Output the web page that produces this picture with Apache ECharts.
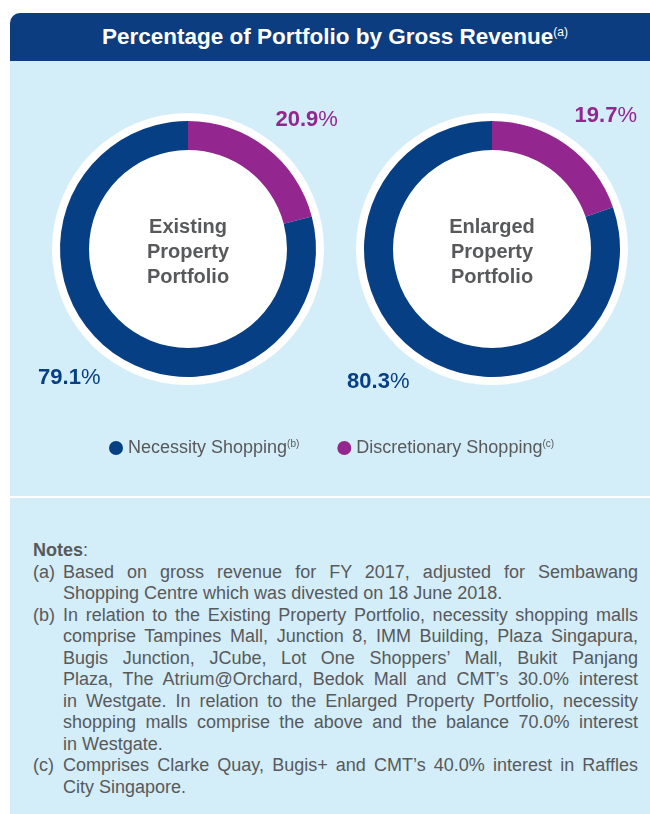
<!DOCTYPE html>
<html>
<head>
<meta charset="utf-8">
<script src="https://cdn.jsdelivr.net/npm/echarts@6/dist/echarts.min.js"></script>
<style>
	html, body {
		margin: 0;
		padding: 0;
		width: 650px;
		height: 814px;
		background: #fff;
		overflow: hidden;
		font-family: 'Liberation Sans', Arial, sans-serif;
	}
	/* 外层面板 */
	.panel {
		position: absolute;
		left: 10px;
		top: 13px;
		width: 640px;
		height: 801px;
		background: #d3edf9;
		border-top-left-radius: 10px;
		overflow: hidden;
	}
	.panel-header {
		height: 48px;
		line-height: 48px;
		background: #0b3d80;
		color: #fff;
		font-size: 22.5px;
		font-weight: bold;
		text-align: center;
		padding-left: 10px;
	}
	.panel-header sup {
		font-size: 12px;
		font-weight: normal;
		vertical-align: 8px;
		line-height: 0;
	}
	.chart {
		width: 640px;
		height: 435px;
	}
	.sep {
		height: 2px;
		background: #fff;
	}
	/* 注释 */
	.notes {
		padding: 42px 12px 0 23px;
		color: #58595b;
		font-size: 18px;
		line-height: 21.5px;
	}
	.notes .title b { font-weight: bold; }
	.note {
		display: flex;
	}
	.note .tag {
		width: 30px;
		flex-shrink: 0;
	}
	.note .body {
		flex: 1;
	}
	.note .line {
		white-space: nowrap;
		text-align: justify;
		text-align-last: justify;
	}
	.note .line.last {
		text-align-last: left;
	}
</style>
</head>
<body>
<div class="panel">
	<div class="panel-header">Percentage of Portfolio by Gross Revenue<sup>(a)</sup></div>
	<div id="chart" class="chart"></div>
	<div class="sep"></div>
	<div id="notes" class="notes"></div>
</div>

<script>
// 数据
const segments = ['Necessity Shopping', 'Discretionary Shopping'];
const segmentNotes = ['(b)', '(c)'];
const portfolios = ['Existing\nProperty\nPortfolio', 'Enlarged\nProperty\nPortfolio'];
const necessityShare = [79.1, 80.3];
const discretionaryShare = [20.9, 19.7];

const colors = {
	necessity: '#063f83',
	discretionary: '#93278f',
	text: '#58595b'
};

// 注释文字（逐行）
const noteTags = ['(a)', '(b)', '(c)'];
const noteLines = [
	[
		'Based on gross revenue for FY 2017, adjusted for Sembawang',
		'Shopping Centre which was divested on 18 June 2018.'
	],
	[
		'In relation to the Existing Property Portfolio, necessity shopping malls',
		'comprise Tampines Mall, Junction 8, IMM Building, Plaza Singapura,',
		'Bugis Junction, JCube, Lot One Shoppers\u2019 Mall, Bukit Panjang',
		'Plaza, The Atrium@Orchard, Bedok Mall and CMT\u2019s 30.0% interest',
		'in Westgate. In relation to the Enlarged Property Portfolio, necessity',
		'shopping malls comprise the above and the balance 70.0% interest',
		'in Westgate.'
	],
	[
		'Comprises Clarke Quay, Bugis+ and CMT\u2019s 40.0% interest in Raffles',
		'City Singapore.'
	]
];

// 饼图中心位置
const centers = [[178, 188], [482, 188]];

const pctLabel = {
	show: true,
	position: 'outside',
	distanceToLabelLine: -12,
	formatter: p => '{n|' + p.value.toFixed(1) + '}{p|%}',
	rich: {
		n: { fontSize: 22, fontWeight: 'bold', fontFamily: 'Liberation Sans' },
		p: { fontSize: 22, fontFamily: 'Liberation Sans' }
	}
};

const buildSeries = () => {
	const series = [];
	portfolios.forEach((name, i) => {
		// 白色底盘 + 中心文字
		series.push({
			type: 'pie',
			silent: true,
			center: centers[i],
			radius: [0, 136],
			z: 1,
			label: {
				show: true,
				position: 'center',
				formatter: name,
				fontSize: 20,
				lineHeight: 25,
				fontWeight: 'bold',
				fontFamily: 'Liberation Sans',
				color: colors.text,
				offset: [0, 3]
			},
			labelLine: { show: false },
			emphasis: { disabled: true },
			itemStyle: { color: '#fff' },
			data: [{ name: name.replace(/\n/g, ' '), value: 1 }]
		});
		// 环形图
		series.push({
			type: 'pie',
			silent: true,
			center: centers[i],
			radius: [99, 128],
			startAngle: 90,
			clockwise: true,
			z: 2,
			avoidLabelOverlap: false,
			label: pctLabel,
			labelLine: { show: false, length: 35, length2: 0 },
			emphasis: { disabled: true },
			data: [
				{
					name: segments[1],
					value: discretionaryShare[i],
					itemStyle: { color: colors.discretionary },
					label: { color: colors.discretionary }
				},
				{
					name: segments[0],
					value: necessityShare[i],
					itemStyle: { color: colors.necessity },
					label: { color: colors.necessity }
				}
			]
		});
	});
	return series;
};

const chart = echarts.init(document.getElementById('chart'));
chart.setOption({
	animation: false,
	legend: {
		data: segments,
		selectedMode: false,
		left: 94,
		top: 373,
		icon: 'circle',
		itemWidth: 14,
		itemHeight: 14,
		itemGap: 38,
		formatter: name => name + '{s|' + segmentNotes[segments.indexOf(name)] + '}',
		textStyle: {
			fontSize: 18,
			color: colors.text,
			fontFamily: 'Liberation Sans',
			rich: {
				s: { fontSize: 10, verticalAlign: 'top', lineHeight: 14, color: colors.text }
			}
		}
	},
	series: buildSeries()
});

// 注释渲染
const notesEl = document.getElementById('notes');
let html = '<div class="title"><b>Notes</b>:</div>';
noteLines.forEach((lines, i) => {
	html += '<div class="note"><div class="tag">' + noteTags[i] + '</div><div class="body">';
	lines.forEach((line, j) => {
		const cls = j === lines.length - 1 ? 'line last' : 'line';
		html += '<div class="' + cls + '">' + line + '</div>';
	});
	html += '</div></div>';
});
notesEl.innerHTML = html;
</script>
</body>
</html>
